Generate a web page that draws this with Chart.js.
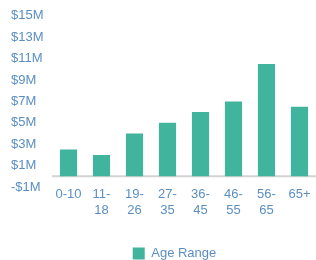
<!DOCTYPE html>
<html>
<head>
<meta charset="utf-8">
<script src="https://cdn.jsdelivr.net/npm/chart.js@4"></script>
<style>
  html, body { margin: 0; padding: 0; background: #fff; }
  #wrap { width: 316px; height: 260px; }
</style>
</head>
<body>
<div id="wrap"><canvas id="chart"></canvas></div>
<script>
// data (values in $M)
const ageRanges = [['0-10'], ['11-', '18'], ['19-', '26'], ['27-', '35'], ['36-', '45'], ['46-', '55'], ['56-', '65'], ['65+']];
const spendValues = [2.5, 2.0, 4.0, 5.0, 6.0, 7.0, 10.5, 6.5];
const seriesName = 'Age Range';
const yMin = -1;
const yMax = 15;
const yStep = 2;

const textColor = '#5b8fc3';
const barColor = '#41b49d';

// draws the gray line at zero instead of at the bottom of the axis
const zeroLine = {
    id: 'zeroLine',
    beforeDatasetsDraw(chart) {
        const { ctx, chartArea, scales } = chart;
        const y = scales.y.getPixelForValue(0);
        ctx.save();
        ctx.strokeStyle = '#d3d3d3';
        ctx.lineWidth = 2;
        ctx.beginPath();
        ctx.moveTo(chartArea.left, y);
        ctx.lineTo(chartArea.right, y);
        ctx.stroke();
        ctx.restore();
    }
};

// legend sits a bit right of the canvas centre in the original
const legendShift = {
    id: 'legendShift',
    afterLayout(chart) {
        if (chart.legend) {
            chart.legend.left += 10;
            chart.legend.right += 10;
        }
    }
};

new Chart(document.getElementById('chart'), {
    type: 'bar',
    data: {
        labels: ageRanges,
        datasets: [{
            label: seriesName,
            data: spendValues,
            backgroundColor: barColor,
            categoryPercentage: 1,
            barPercentage: 0.52
        }]
    },
    options: {
        responsive: true,
        maintainAspectRatio: false,
        animation: false,
        layout: { padding: { left: 11, right: -2, top: -2, bottom: -10 } },
        plugins: {
            legend: {
                position: 'bottom',
                labels: {
                    color: textColor,
                    boxWidth: 12,
                    boxHeight: 12,
                    padding: 2,
                    font: { family: 'Liberation Sans', size: 13 }
                }
            },
            tooltip: { enabled: false }
        },
        scales: {
            x: {
                grid: { display: false, drawTicks: false },
                border: { display: false },
                afterFit: (scale) => { scale.height = 58; },
                ticks: {
                    color: textColor,
                    padding: 0,
                    maxRotation: 0,
                    autoSkip: false,
                    font: { family: 'Liberation Sans', size: 13 }
                }
            },
            y: {
                min: yMin,
                max: yMax,
                grid: { display: false, drawTicks: false },
                border: { display: false },
                afterFit: (scale) => { scale.width = 41; },
                ticks: {
                    stepSize: yStep,
                    color: textColor,
                    crossAlign: 'far',
                    padding: 8,
                    font: { family: 'Liberation Sans', size: 13 },
                    callback: (v) => (v < 0 ? '-$' : '$') + Math.abs(v) + 'M'
                }
            }
        }
    },
    plugins: [zeroLine, legendShift]
});
</script>
</body>
</html>
